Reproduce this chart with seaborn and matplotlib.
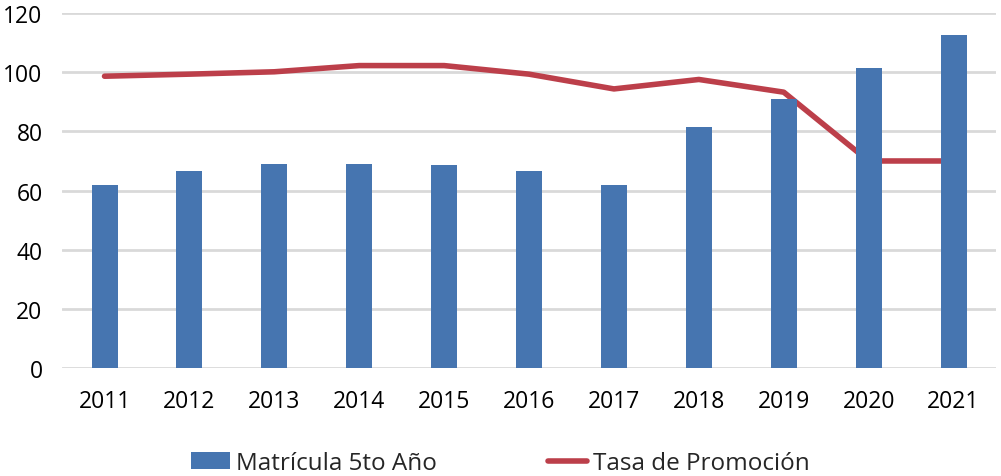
import numpy as np
import pandas as pd
import matplotlib
matplotlib.use('Agg')
import matplotlib.pyplot as plt
import seaborn as sns
from matplotlib.patches import Patch
from matplotlib.lines import Line2D

# Datos
years = ['2011', '2012', '2013', '2014', '2015', '2016', '2017', '2018', '2019', '2020', '2021']
matricula = [62, 66.7, 69.1, 69.1, 68.7, 66.7, 62, 81.6, 91.1, 101.6, 112.7]
tasa = [98.7, 99.4, 100.2, 102.3, 102.3, 99.4, 94.4, 97.6, 93.3, 70, 70]

df = pd.DataFrame({'anio': years, 'pos': np.arange(len(years)),
                   'matricula': matricula, 'tasa': tasa})

blue = '#4675b0'
red = '#bc3f4a'

sns.set_style('white')
plt.rcParams['font.family'] = ['Open Sans', 'DejaVu Sans']

fig, ax = plt.subplots(figsize=(10.01, 4.77), dpi=100)
fig.subplots_adjust(left=0.062, right=0.995, top=0.97, bottom=0.227)

# Línea (queda detrás de las barras)
sns.lineplot(data=df, x='pos', y='tasa', color=red, linewidth=4, ax=ax, zorder=1)
# Barras
sns.barplot(data=df, x='pos', y='matricula', color=blue, width=0.306,
            saturation=1, ax=ax, zorder=2, native_scale=True, linewidth=0)

ax.set_xlim(-0.5, len(years) - 0.5)
ax.set_ylim(0, 120)
ax.set_yticks(range(0, 121, 20))
ax.set_xticks(df['pos'])
ax.set_xticklabels(years)
ax.yaxis.grid(True, color='#d9d9d9', linewidth=2, zorder=0)
ax.set_axisbelow(True)
sns.despine(ax=ax, left=True, bottom=True, top=True, right=True)
ax.tick_params(axis='both', length=0, labelsize=16.5, labelcolor='black')
ax.tick_params(axis='x', pad=15)
ax.tick_params(axis='y', pad=14)
ax.set_xlabel('')
ax.set_ylabel('')

handles = [Patch(facecolor=blue, edgecolor='none', label='Matrícula 5to Año'),
           Line2D([0], [0], color=red, linewidth=4, label='Tasa de Promoción')]
fig.legend(handles=handles, loc='center', bbox_to_anchor=(0.5, 0.027), ncol=2,
           frameon=False, fontsize=17.5, columnspacing=4.6, handlelength=1.6,
           handletextpad=0.25)

fig.savefig('out.png', dpi=100)
